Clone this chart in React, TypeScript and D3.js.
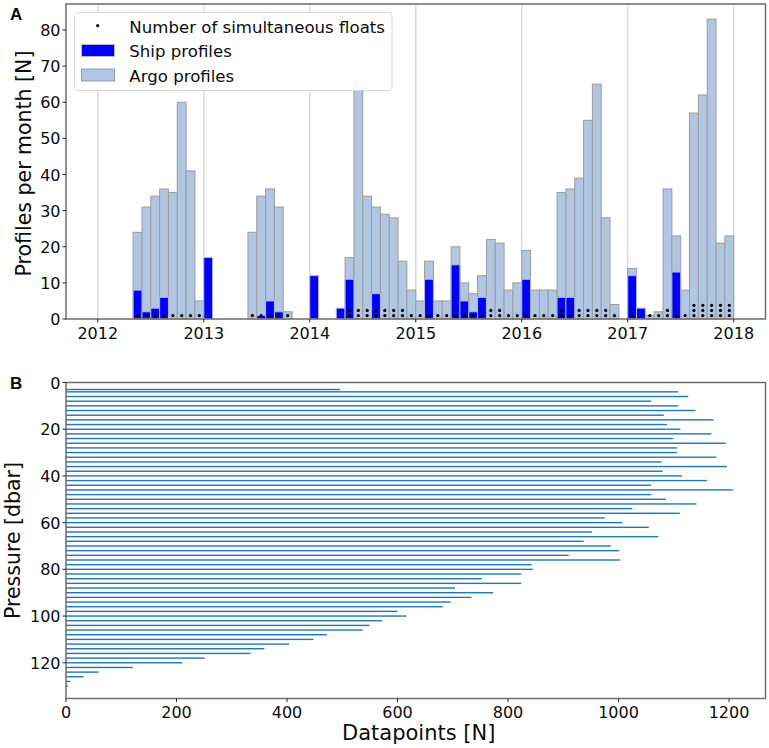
import * as d3 from "d3";

const width = 769;
const height = 748;
const font = "DejaVu Sans";

// monthly bins, Jan 2012 .. Dec 2017
const argoProfiles = [
  0, 0, 0, 0, 24, 31, 34, 36, 35, 60, 41, 5,
  0, 0, 0, 0, 0, 24, 34, 36, 31, 2, 0, 0,
  0, 0, 0, 0, 17, 66, 34, 31, 29, 28, 16, 8,
  5, 16, 5, 5, 20, 10, 7, 12, 22, 21, 8, 10,
  19, 8, 8, 8, 35, 36, 39, 55, 65, 28, 4, 0,
  14, 0, 1, 2, 36, 23, 8, 57, 62, 83, 21, 23,
];
const shipProfiles = [
  0, 0, 0, 0, 8, 2, 3, 6, 0, 0, 0, 0,
  17, 0, 0, 0, 0, 0, 1, 5, 2, 0, 0, 0,
  12, 0, 0, 3, 11, 0, 0, 7, 0, 0, 0, 0,
  0, 11, 0, 0, 15, 5, 2, 6, 0, 0, 0, 0,
  11, 0, 0, 0, 6, 6, 0, 0, 0, 0, 0, 0,
  12, 3, 0, 0, 0, 13, 0, 0, 0, 0, 0, 0,
];
const simultaneousFloats = [
  0, 0, 0, 0, 1, 1, 1, 1, 1, 1, 1, 1,
  0, 0, 0, 0, 0, 1, 1, 1, 1, 1, 0, 0,
  0, 0, 0, 0, 2, 2, 2, 2, 2, 2, 2, 1,
  1, 1, 1, 1, 1, 1, 1, 1, 2, 2, 1, 1,
  1, 1, 1, 1, 2, 1, 2, 2, 2, 2, 1, 0,
  1, 0, 1, 1, 2, 1, 1, 3, 3, 3, 3, 3,
];
const yearTicks = [2012, 2013, 2014, 2015, 2016, 2017, 2018];
const profileTicks = [0, 10, 20, 30, 40, 50, 60, 70, 80];

// pressure levels 3, 4, 6, ... 130 dbar
const pressureLevels = [3, ...d3.range(4, 131, 2)];
const datapoints = [
  496, 1108, 1126, 1059, 1108, 1139, 1082, 1172, 1088, 1112, 1168, 1099, 1194,
  1106, 1106, 1177, 1078, 1196, 1080, 1115, 1160, 1059, 1207, 1059, 1086, 1141,
  1025, 1111, 975, 1007, 1055, 952, 1072, 937, 986, 1001, 910, 1003, 843, 845,
  824, 753, 824, 704, 773, 734, 696, 682, 600, 616, 572, 549, 537, 472, 448,
  404, 359, 334, 251, 210, 121, 59, 32, 8, 4,
];
const pressureTicks = [0, 20, 40, 60, 80, 100, 120];
const datapointTicks = [0, 200, 400, 600, 800, 1000, 1200];

const left = 66;
const right = 765.5;
const topA = { y0: 4, y1: 319 };
const topB = { y0: 382.5, y1: 698.5 };
const tickFont = 16;
const tickLen = 3.5;

const x = d3.scaleLinear().domain([2011.7, 2018.3]).range([left, right]);
const y = d3.scaleLinear().domain([0, 87.2]).range([topA.y1, topA.y0]);
const xB = d3.scaleLinear().domain([0, 1266]).range([left, right]);
const yB = d3.scaleLinear().domain([0, 135.3]).range([topB.y0, topB.y1]);

const monthYear = (k: number) => 2012 + k / 12;
const months = d3.range(argoProfiles.length);
const spine = "#6e6e6e";
const ink = "#0c0c0c";

function Frame({ y0, y1 }: { y0: number; y1: number }) {
  return (
    <rect x={left} y={y0} width={right - left} height={y1 - y0} fill="none" stroke={spine} strokeWidth={1.5} />
  );
}

export default function App() {
  const bw = x(2012 + 1 / 12) - x(2012);
  return (
    <svg
      width={width}
      height={height}
      style={{ position: "absolute", left: 0, top: 0, fontFamily: font }}
    >
      <rect width={width} height={height} fill="#fff" />

      {/* Panel A */}
      {yearTicks.map((t) => (
        <line key={t} x1={x(t)} x2={x(t)} y1={topA.y0} y2={topA.y1} stroke="#d9d9d9" strokeWidth={1.5} />
      ))}
      {months.map((k) =>
        argoProfiles[k] > 0 ? (
          <rect
            key={k}
            x={x(monthYear(k))}
            y={y(argoProfiles[k])}
            width={bw}
            height={y(0) - y(argoProfiles[k])}
            fill="#b0c6e3"
            stroke="#9c9c9c"
            strokeWidth={1}
          />
        ) : null,
      )}
      {months.map((k) =>
        shipProfiles[k] > 0 ? (
          <rect
            key={k}
            x={x(monthYear(k))}
            y={y(shipProfiles[k])}
            width={bw}
            height={y(0) - y(shipProfiles[k])}
            fill="#0000ff"
            stroke="#b4bcc8"
            strokeWidth={1}
          />
        ) : null,
      )}
      {months.flatMap((k) =>
        d3.range(simultaneousFloats[k]).map((n) => (
          <circle key={`${k}-${n}`} cx={x(monthYear(k)) + bw / 2} cy={y(0.95 + n * 1.42)} r={1.6} fill="#000" />
        )),
      )}
      <Frame {...topA} />
      {yearTicks.map((t) => (
        <g key={t}>
          <line x1={x(t)} x2={x(t)} y1={topA.y1} y2={topA.y1 + tickLen} stroke="#222" />
          <text x={x(t)} y={topA.y1 + 19.5} textAnchor="middle" fontSize={tickFont} fill={ink}>
            {t}
          </text>
        </g>
      ))}
      {profileTicks.map((t) => (
        <g key={t}>
          <line x1={left - tickLen} x2={left} y1={y(t)} y2={y(t)} stroke="#222" />
          <text x={left - 5.5} y={y(t) + 6} textAnchor="end" fontSize={tickFont} fill={ink}>
            {t}
          </text>
        </g>
      ))}
      <text
        transform={`translate(31,${(topA.y0 + topA.y1) / 2 + 2}) rotate(-90)`}
        textAnchor="middle"
        fontSize={20.5}
        fill={ink}
      >
        Profiles per month [N]
      </text>
      <text x={10} y={20} fontFamily="Liberation Sans" fontWeight="bold" fontSize={17} fill={ink}>
        A
      </text>

      {/* Legend */}
      <rect x={74.5} y={12.5} width={317.5} height={78} rx={3} fill="#fff" fillOpacity={0.95} stroke="#d8d8d8" />
      <circle cx={97.7} cy={25.7} r={1.6} fill="#000" />
      <rect x={81.5} y={44.5} width={33} height={12} fill="#0000ff" stroke="#b4bcc8" />
      <rect x={81.5} y={69} width={33} height={12} fill="#b0c6e3" stroke="#9c9c9c" />
      <text x={129.3} y={32.5} fontSize={16.6} fill={ink}>
        Number of simultaneous floats
      </text>
      <text x={129.3} y={57.3} fontSize={16.6} fill={ink}>
        Ship profiles
      </text>
      <text x={129.3} y={81.5} fontSize={16.6} fill={ink}>
        Argo profiles
      </text>

      {/* Panel B */}
      {pressureLevels.map((p, i) => (
        <rect
          key={p}
          x={xB(0)}
          y={yB(p) - 0.7}
          width={xB(datapoints[i]) - xB(0)}
          height={1.4}
          fill="#1f77b4"
        />
      ))}
      <Frame {...topB} />
      {datapointTicks.map((t) => (
        <g key={t}>
          <line x1={xB(t)} x2={xB(t)} y1={topB.y1} y2={topB.y1 + tickLen} stroke="#222" />
          <text x={xB(t)} y={topB.y1 + 19.5} textAnchor="middle" fontSize={tickFont} fill={ink}>
            {t}
          </text>
        </g>
      ))}
      {pressureTicks.map((t) => (
        <g key={t}>
          <line x1={left - tickLen} x2={left} y1={yB(t)} y2={yB(t)} stroke="#222" />
          <text x={left - 5.5} y={yB(t) + 6} textAnchor="end" fontSize={tickFont} fill={ink}>
            {t}
          </text>
        </g>
      ))}
      <text
        transform={`translate(20,${(topB.y0 + topB.y1) / 2}) rotate(-90)`}
        textAnchor="middle"
        fontSize={20.5}
        fill={ink}
      >
        Pressure [dbar]
      </text>
      <text x={(left + right) / 2 + 3} y={740} textAnchor="middle" fontSize={21} fill={ink}>
        Datapoints [N]
      </text>
      <text x={10} y={389} fontFamily="Liberation Sans" fontWeight="bold" fontSize={17} fill={ink}>
        B
      </text>
    </svg>
  );
}
